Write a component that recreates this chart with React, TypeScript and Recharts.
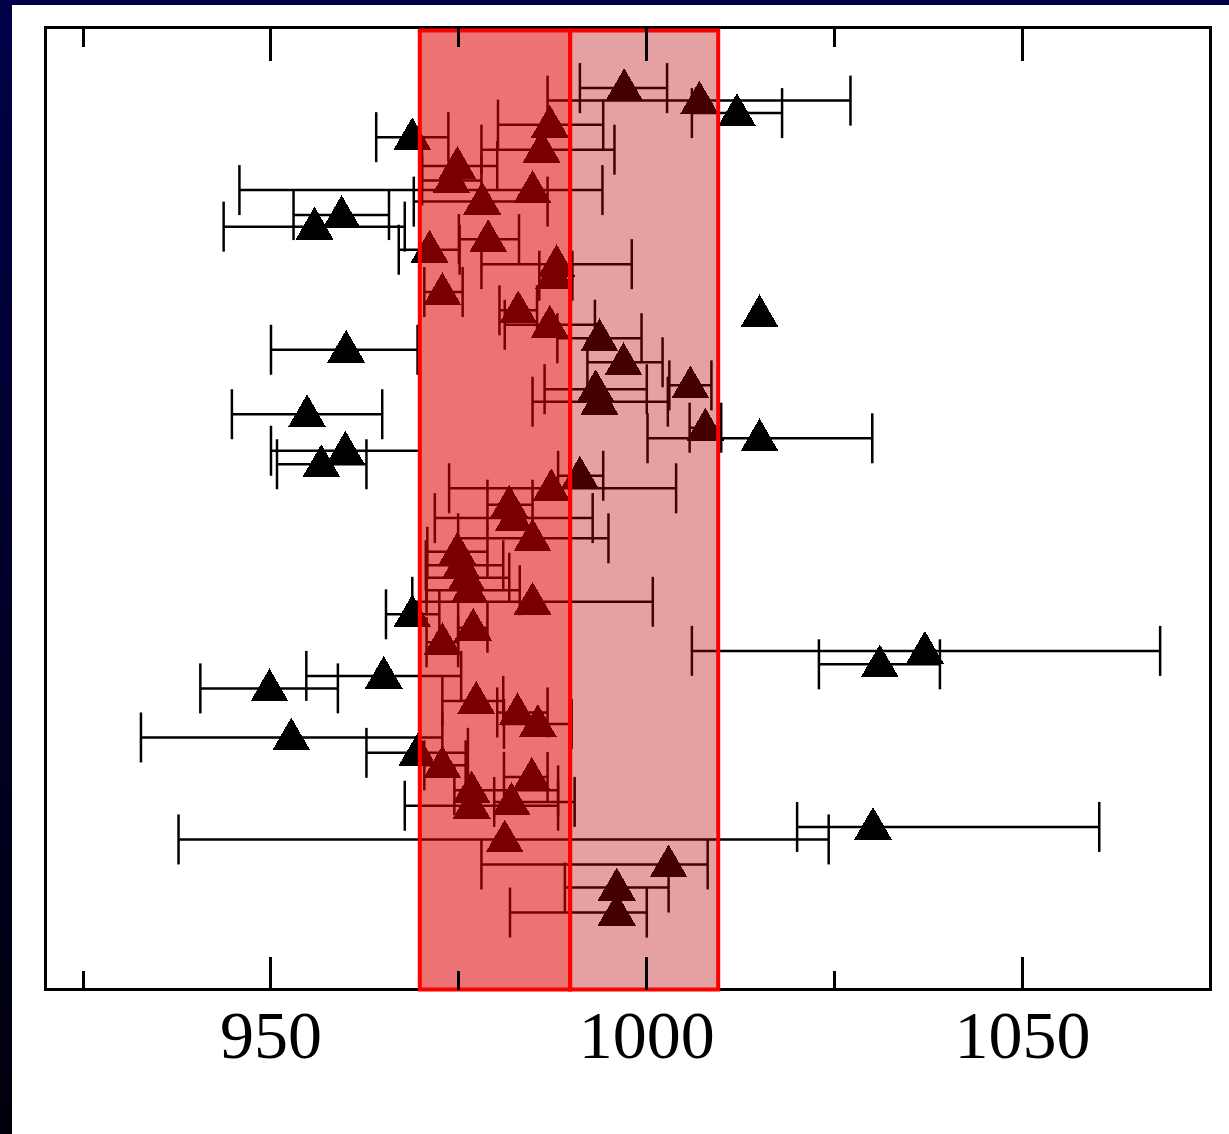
import React from 'react';
import { ScatterChart, Scatter, XAxis, YAxis, ErrorBar, ReferenceArea } from 'recharts';

// ── Data (top row first) ──────────────────────────────────────
const rows = [
  6.3, 7.6, 8.9, 10.1, 11.4, 12.7, 14.4, 15.9, 16.9, 18.1,
  19.5, 20.7, 22.0, 23.1, 24.6, 25.8, 27.5, 29.4, 29.8, 30.9,
  32.3, 33.5, 34.8, 37.2, 37.6, 38.9, 40.2, 41.6, 42.7, 44.0,
  45.4, 46.6, 47.9, 49.6, 51.0, 53.1, 54.5, 55.9, 57.2, 58.5,
  59.7, 61.0, 62.4, 63.9, 64.8, 66.2, 67.4, 68.7, 70.0, 71.2,
  72.4, 73.8, 75.4, 76.7, 77.9, 79.3, 80.5, 80.9, 83.1, 84.4,
  87.0, 89.4, 92.0,
];

const values = [
  997.0, 1007.0, 1012.0, 987.1, 968.8, 986.0, 974.8, 974.0, 984.8, 978.1,
  959.4, 955.8, 978.9, 971.1, 988.0, 987.7, 972.8, 982.9, 1015.0, 987.1,
  993.7, 960.0, 996.9, 1005.8, 993.2, 993.7, 954.8, 1007.8, 1015.0, 959.9,
  956.7, 991.1, 987.3, 981.7, 982.3, 984.8, 974.8, 975.3, 976.0, 976.4,
  984.8, 968.8, 976.9, 972.8, 1037.0, 1031.0, 965.0, 949.8, 977.3, 982.8,
  985.5, 952.7, 969.5, 972.8, 984.7, 976.7, 982.0, 976.7, 1030.1, 981.1,
  1002.9, 996.0, 996.0,
];

const errLow = [
  5.9, 20.2, 6.0, 6.9, 4.8, 8.0, 4.7, 3.9, 39.0, 9.1,
  6.4, 12.1, 3.9, 4.1, 10.0, 2.0, 2.4, 2.5, 0, 6.0,
  5.6, 10.0, 4.8, 2.8, 6.8, 8.9, 10.0, 2.1, 14.9, 9.9,
  5.9, 2.9, 13.6, 2.9, 10.5, 9.9, 4.0, 4.7, 5.3, 5.7,
  16.0, 3.5, 2.0, 2.1, 31.0, 8.1, 10.3, 9.2, 4.5, 2.7,
  4.5, 20.0, 6.8, 2.4, 3.7, 2.3, 2.3, 8.9, 10.1, 43.4,
  24.9, 6.9, 14.2,
];

const errHigh = [
  5.7, 20.1, 6.0, 7.1, 4.8, 9.7, 5.3, 4.0, 9.3, 8.7,
  6.3, 12.0, 4.1, 4.0, 10.0, 2.4, 2.7, 2.5, 0, 6.0,
  5.6, 9.5, 5.2, 2.8, 6.8, 9.1, 10.0, 2.1, 15.0, 9.9,
  6.0, 3.1, 16.6, 3.1, 10.5, 10.1, 4.0, 5.6, 5.7, 6.7,
  16.0, 3.6, 1.9, 2.1, 31.3, 8.0, 10.3, 9.1, 3.6, 4.0,
  4.5, 20.1, 6.7, 3.1, 2.1, 11.5, 8.4, 11.5, 30.1, 43.1,
  5.2, 6.9, 4.0,
];

const xTicks = [925, 950, 975, 1000, 1025, 1050];
const labelledTicks = [950, 1000, 1050];

const innerBand = [969.8, 989.8];
const outerBand = [989.8, 1009.5];

const data = rows.map((y, i) => ({ x: values[i], y, err: [errLow[i], errHigh[i]] }));

const CHART_W = 1229;
const CHART_H = 1134;
const MARGIN = { top: 27.5, right: 18.5, bottom: 143.5, left: 45.5 };
const AXIS_H = 1;
const PLOT_H = CHART_H - MARGIN.top - MARGIN.bottom - AXIS_H;

// ── Ticks: drawn inward on both the bottom and the top edge ───
function FrameTick({ x, y, payload }: any) {
  const major = labelledTicks.includes(payload.value);
  const len = major ? 33 : 19;
  const top = y - PLOT_H;
  return (
    <g>
      <line x1={x} x2={x} y1={y} y2={y - len} stroke="#000" strokeWidth={3} shapeRendering="crispEdges" />
      <line x1={x} x2={x} y1={top} y2={top + len} stroke="#000" strokeWidth={3} shapeRendering="crispEdges" />
      {major && (
        <text
          x={x}
          y={y + 68}
          textAnchor="middle"
          fontFamily="'Liberation Serif', 'Times New Roman', serif"
          fontSize={68}
          fill="#000"
        >
          {payload.value}
        </text>
      )}
    </g>
  );
}

function Triangle({ cx, cy }: any) {
  return (
    <polygon
      points={`${cx},${cy - 20} ${cx - 19},${cy + 13} ${cx + 19},${cy + 13}`}
      fill="#000"
      shapeRendering="crispEdges"
    />
  );
}

export default function App() {
  return (
    <div
      style={{
        position: 'absolute', left: 0, top: 0, width: CHART_W, height: CHART_H,
        background: 'linear-gradient(to bottom, #000048, #00000c)',
      }}
    >
      <div style={{ position: 'absolute', left: 12, top: 5, width: 1217, height: 1129, background: '#fff' }} />
      <div style={{ position: 'absolute', left: 0, top: 0 }}>
        <ScatterChart width={CHART_W} height={CHART_H} margin={MARGIN}>
          <XAxis
            type="number"
            dataKey="x"
            domain={[920, 1075]}
            ticks={xTicks}
            interval={0}
            height={AXIS_H}
            tickSize={0}
            tickMargin={0}
            axisLine={false}
            tickLine={false}
            tick={<FrameTick />}
          />
          <YAxis type="number" dataKey="y" domain={[0, 100]} reversed hide />
          <Scatter data={data} shape={<Triangle />} isAnimationActive={false}>
            <ErrorBar
              dataKey={(d: any) => (d.err[0] === 0 && d.err[1] === 0 ? null : d.err)}
              direction="x"
              width={25}
              stroke="#000"
              strokeWidth={2.5}
              style={{ strokeWidth: 2.5 }}
              isAnimationActive={false}
            />
          </Scatter>
          <ReferenceArea
            x1={920} x2={1075} y1={0} y2={100} ifOverflow="visible" shapeRendering="crispEdges"
            fill="none" stroke="#000" strokeWidth={3} zIndex={650}
          />
          <ReferenceArea
            x1={innerBand[0]} x2={innerBand[1]} y1={0.3} y2={100} ifOverflow="visible"
            fill="rgb(220,0,0)" fillOpacity={0.55} stroke="#ff0000" strokeWidth={4} zIndex={700}
          />
          <ReferenceArea
            x1={outerBand[0]} x2={outerBand[1]} y1={0.3} y2={100} ifOverflow="visible"
            fill="rgb(185,0,0)" fillOpacity={0.37} stroke="#ff0000" strokeWidth={4} zIndex={700}
          />
        </ScatterChart>
      </div>
    </div>
  );
}
